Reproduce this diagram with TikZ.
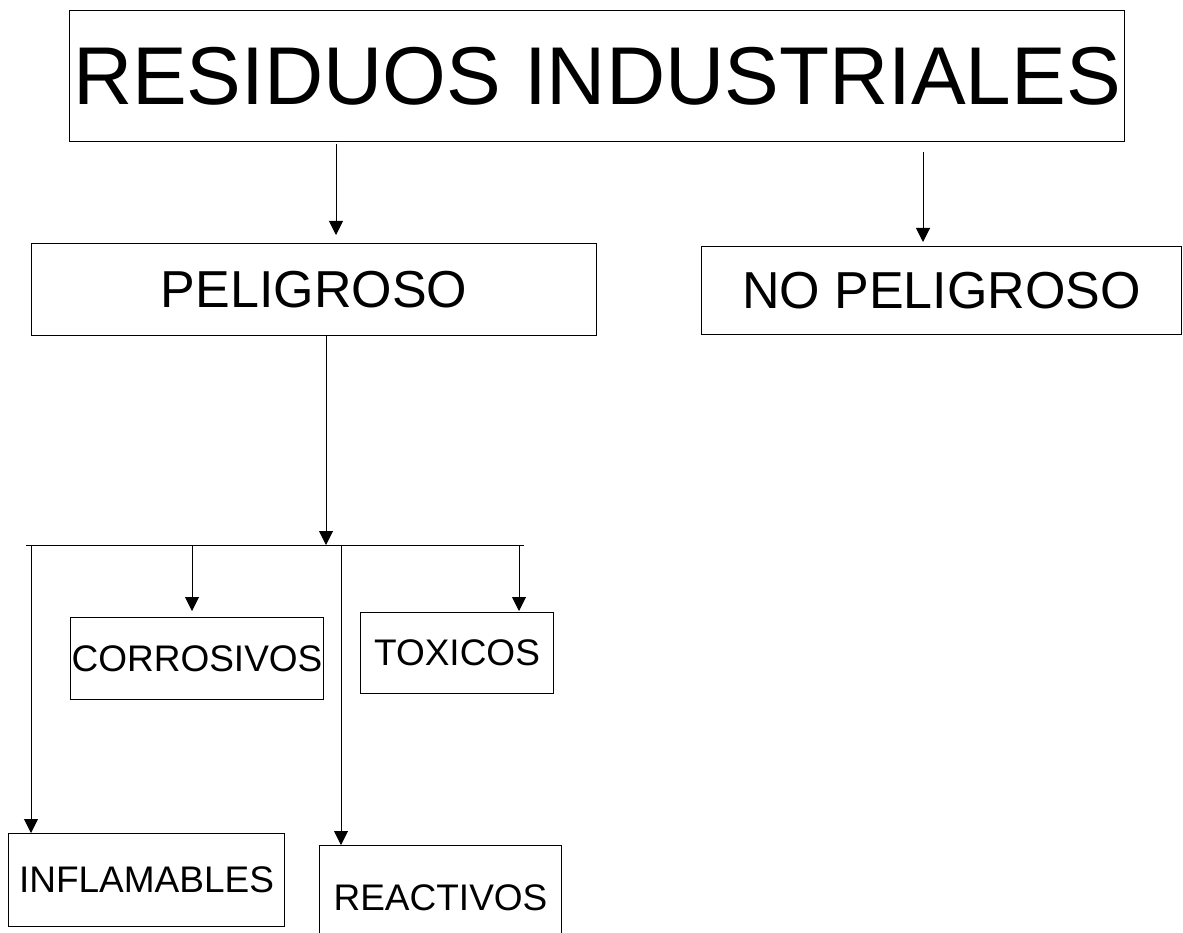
\documentclass[tikz,border=0pt]{standalone}
\usepackage{fontspec}
\setmainfont{Liberation Sans}
\usetikzlibrary{arrows.meta}
\begin{document}
\begin{tikzpicture}[x=1pt,y=-1pt,line width=1pt,
    box/.style={draw,inner sep=0pt,anchor=north west},
    arr/.style={-{Triangle[length=14pt,width=14pt]}}]
    \useasboundingbox (0,0) rectangle (1183,933);
    \node[box,minimum width=1055pt,minimum height=131pt,font=\fontsize{82}{90}\selectfont] (res) at (69,10) {RESIDUOS INDUSTRIALES};
    \node[box,minimum width=565pt,minimum height=92pt,font=\fontsize{52}{60}\selectfont] (pel) at (31,243) {PELIGROSO};
    \node[box,minimum width=480pt,minimum height=88pt,font=\fontsize{52}{60}\selectfont] (nopel) at (701,246) {NO PELIGROSO};
    \node[box,minimum width=253pt,minimum height=82pt,font=\fontsize{37}{44}\selectfont] (corr) at (70,617) {CORROSIVOS};
    \node[box,minimum width=193pt,minimum height=81pt,font=\fontsize{37}{44}\selectfont] (tox) at (360,612) {TOXICOS};
    \node[box,minimum width=276pt,minimum height=93pt,font=\fontsize{37}{44}\selectfont] (inf) at (8,833) {INFLAMABLES};
    \node[box,minimum width=242pt,minimum height=104pt,font=\fontsize{37}{44}\selectfont] (rea) at (319,845) {REACTIVOS};
    \coordinate (j1) at (336,0);
    \coordinate (j2) at (923,0);
    \coordinate (bus) at (326,545);
    \coordinate (busl) at (26,545);
    \coordinate (busr) at (524,545);
    \draw[arr,shorten <=2pt,shorten >=8pt] (res.south -| j1) -- (pel.north -| j1);
    \draw[arr,shorten <=10pt,shorten >=4pt] (res.south -| j2) -- (nopel.north -| j2);
    \draw[arr] (pel.south -| bus) -- (bus);
    \draw (busl) -- (busr);
    \foreach \x/\n/\s in {192/corr/6,519/tox/1,31/inf/0,341/rea/0}
        \draw[arr,shorten >=\s pt] (bus -| \x,0) -- (\n.north -| \x,0);
\end{tikzpicture}
\end{document}
